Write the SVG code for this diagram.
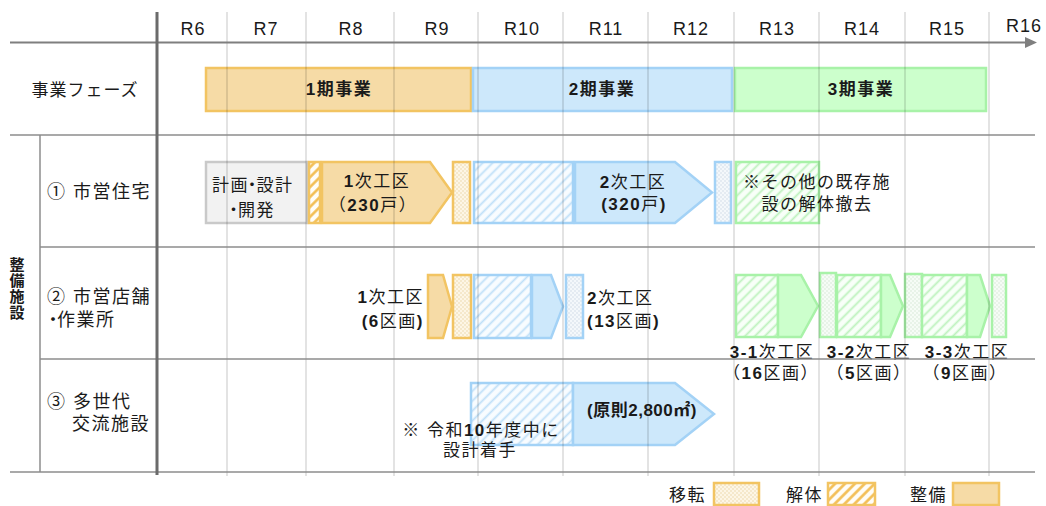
<svg xmlns="http://www.w3.org/2000/svg" width="1046" height="506" viewBox="0 0 1046 506">
<defs>
<style>
text{font-family:"Liberation Sans","Noto Sans CJK JP",sans-serif;fill:#1a1a1a}
.hdr{font-size:18px;letter-spacing:1px;text-anchor:middle}
.lbl{font-size:17px;letter-spacing:1.5px}
.left{font-size:18px;letter-spacing:1.5px}
.mid{text-anchor:middle}
.end{text-anchor:end}
.b{font-weight:bold}
.tight{letter-spacing:-4px}
.grid{stroke:#000;stroke-opacity:0.15;stroke-width:1.5}
.sep{stroke:#8c8c8c;stroke-width:1.5;fill:none}
.o{fill:#f6dba6;stroke:#f2c462;stroke-width:2.5}
.bl{fill:#cde8fb;stroke:#a3d2f6;stroke-width:2.5}
.g{fill:#ccffcc;stroke:#a8f2a8;stroke-width:2.5}
.gray{fill:#f2f2f2;stroke:#c9c9c9;stroke-width:2.5}
.ho{fill:url(#hO);stroke:#f2c462;stroke-width:2.5}
.hb{fill:url(#hB);stroke:#a3d2f6;stroke-width:2.5}
.hg{fill:url(#hG);stroke:#a8f2a8;stroke-width:2.5}
.do{fill:url(#dO);stroke:#f2c462;stroke-width:2.5}
.db{fill:url(#dB);stroke:#a3d2f6;stroke-width:2.5}
.dg{fill:url(#dG);stroke:#a8f2a8;stroke-width:2.5}
</style>
<pattern id="hO" width="7" height="7" patternUnits="userSpaceOnUse" patternTransform="rotate(45)"><rect width="7" height="7" fill="#fffdf8"/><line x1="1.5" y1="0" x2="1.5" y2="7" stroke="#f2bb4c" stroke-width="2.5"/></pattern>
<pattern id="hB" width="7" height="7" patternUnits="userSpaceOnUse" patternTransform="rotate(45)"><rect width="7" height="7" fill="#f8fcff"/><line x1="1.5" y1="0" x2="1.5" y2="7" stroke="#bfe0f8" stroke-width="1.8"/></pattern>
<pattern id="hG" width="7" height="7" patternUnits="userSpaceOnUse" patternTransform="rotate(45)"><rect width="7" height="7" fill="#f8fff8"/><line x1="1.5" y1="0" x2="1.5" y2="7" stroke="#bdf2bd" stroke-width="1.8"/></pattern>
<pattern id="dO" width="4" height="4" patternUnits="userSpaceOnUse"><rect width="4" height="4" fill="#fdf6e6"/><circle cx="1" cy="1" r="0.7" fill="#e8d09c"/><circle cx="3" cy="3" r="0.7" fill="#e8d09c"/></pattern>
<pattern id="dB" width="4" height="4" patternUnits="userSpaceOnUse"><rect width="4" height="4" fill="#f4f8fb"/><circle cx="1" cy="1" r="0.7" fill="#c9d6e2"/><circle cx="3" cy="3" r="0.7" fill="#c9d6e2"/></pattern>
<pattern id="dG" width="4" height="4" patternUnits="userSpaceOnUse"><rect width="4" height="4" fill="#f6fcf6"/><circle cx="1" cy="1" r="0.7" fill="#cfe3cf"/><circle cx="3" cy="3" r="0.7" fill="#cfe3cf"/></pattern>
<marker id="arr" markerWidth="12" markerHeight="11" refX="0" refY="5.5" orient="auto" markerUnits="userSpaceOnUse"><path d="M0,0 L12,5.5 L0,11 z" fill="#7f7f7f"/></marker>
</defs>
<rect width="1046" height="506" fill="#fff"/>

<g id="axis-labels">
<text class="hdr" x="193" y="35">R6</text>
<text class="hdr" x="266" y="35">R7</text>
<text class="hdr" x="351" y="35">R8</text>
<text class="hdr" x="437" y="35">R9</text>
<text class="hdr" x="522" y="35">R10</text>
<text class="hdr" x="606" y="35">R11</text>
<text class="hdr" x="691" y="35">R12</text>
<text class="hdr" x="777" y="35">R13</text>
<text class="hdr" x="862" y="35">R14</text>
<text class="hdr" x="947" y="35">R15</text>
<text class="hdr" x="1024" y="32">R16</text>
</g>

<g id="row-labels">
<text class="left" x="85" y="96" text-anchor="middle" style="letter-spacing:1px;font-size:17px">事業フェーズ</text>
<text class="b" style="font-size:15px" text-anchor="middle"><tspan x="17" y="270">整</tspan><tspan x="17" y="286">備</tspan><tspan x="17" y="302">施</tspan><tspan x="17" y="318">設</tspan></text>
<text class="left" x="47" y="198">① 市営住宅</text>
<text class="left" x="47" y="303">② 市営店舗</text>
<text class="left" x="44" y="326"><tspan class="tight" style="letter-spacing:-5px">・</tspan>作業所</text>
<text class="left" x="47" y="408">③ 多世代</text>
<text class="left" x="72" y="430">交流施設</text>
</g>

<g id="phase-1"><rect class="o" x="206" y="68" width="265" height="43"/><text class="lbl b mid" x="339" y="95">1期事業</text></g>
<g id="phase-2"><rect class="bl" x="473" y="68" width="259" height="43"/><text class="lbl b mid" x="602" y="95">2期事業</text></g>
<g id="phase-3"><rect class="g" x="735" y="68" width="251" height="43"/><text class="lbl b mid" x="861" y="95">3期事業</text></g>

<g id="housing">
<rect class="gray" x="206" y="162" width="101" height="61"/>
<text class="lbl" x="212" y="191">計<tspan class="tight">画・</tspan>設計</text>
<text class="lbl" x="225" y="216"><tspan class="tight">・</tspan>開発</text>
<rect class="ho" x="309" y="162" width="11" height="61"/>
<polygon class="o" points="322,162 430,162 452,192.5 430,223 322,223"/>
<text class="lbl mid" x="377" y="187"><tspan class="b">1</tspan>次工区</text>
<text class="lbl mid" x="373" y="211">（<tspan class="b">230</tspan>戸）</text>
<rect class="do" x="453" y="162" width="17" height="61"/>
<rect class="hb" x="474" y="162" width="99" height="61"/>
<polygon class="bl" points="575,162 675,162 712,192.5 675,223 575,223"/>
<text class="lbl mid" x="633" y="188"><tspan class="b">2</tspan>次工区</text>
<text class="lbl mid" x="634" y="210"><tspan class="b">(320</tspan>戸<tspan class="b">)</tspan></text>
<rect class="db" x="715" y="162" width="16" height="61"/>
<rect class="hg" x="736" y="162" width="83" height="61"/>
<text class="lbl mid" x="817" y="188">※その他の既存施</text>
<text class="lbl mid" x="817" y="210">設の解体撤去</text>
</g>

<g id="shops">
<text class="lbl end" x="424" y="303"><tspan class="b">1</tspan>次工区</text>
<text class="lbl end" x="424" y="327"><tspan class="b">(6</tspan>区画<tspan class="b">)</tspan></text>
<polygon class="o" points="428,275 443,275 452,306.5 443,338 428,338"/>
<rect class="do" x="453" y="275" width="18" height="63"/>
<rect class="hb" x="474" y="275" width="57" height="63"/>
<polygon class="bl" points="532,275 551,275 563,306.5 551,338 532,338"/>
<rect class="db" x="566" y="275" width="17" height="63"/>
<text class="lbl" x="587" y="304"><tspan class="b">2</tspan>次工区</text>
<text class="lbl" x="587" y="327"><tspan class="b">(13</tspan>区画<tspan class="b">)</tspan></text>
<rect class="hg" x="736" y="275" width="42" height="62"/>
<polygon class="g" points="778,275 801,275 818,306 801,337 778,337"/>
<rect class="dg" x="820" y="273" width="16" height="64"/>
<rect class="hg" x="837" y="275" width="44" height="62"/>
<polygon class="g" points="881,275 890,275 903,306 890,337 881,337"/>
<rect class="dg" x="905" y="274" width="17" height="63"/>
<rect class="hg" x="922" y="275" width="45" height="62"/>
<polygon class="g" points="967,275 980,275 990,306 980,337 967,337"/>
<rect class="dg" x="992" y="275" width="14" height="62"/>
<text class="lbl mid" x="772" y="358"><tspan class="b">3-1</tspan>次工区</text>
<text class="lbl mid" x="771" y="379">（<tspan class="b">16</tspan>区画）</text>
<text class="lbl mid" x="869" y="358"><tspan class="b">3-2</tspan>次工区</text>
<text class="lbl mid" x="869" y="379">（<tspan class="b">5</tspan>区画）</text>
<text class="lbl mid" x="967" y="358"><tspan class="b">3-3</tspan>次工区</text>
<text class="lbl mid" x="965" y="379">（<tspan class="b">9</tspan>区画）</text>
</g>

<g id="community">
<rect class="hb" x="471" y="383" width="102" height="62"/>
<polygon class="bl" points="573,383 675,383 714,414 675,445 573,445"/>
<text class="lbl b mid" x="642" y="416" style="letter-spacing:0.5px">(原則2,800㎡)</text>
<text class="lbl mid" x="481" y="436">※ 令和<tspan class="b">10</tspan>年度中に</text>
<text class="lbl mid" x="480" y="456">設計着手</text>
</g>

<g id="connectors">
<line class="grid" x1="227" y1="12" x2="227" y2="476"/>
<line class="grid" x1="306" y1="12" x2="306" y2="476"/>
<line class="grid" x1="394" y1="12" x2="394" y2="476"/>
<line class="grid" x1="478" y1="12" x2="478" y2="476"/>
<line class="grid" x1="563" y1="12" x2="563" y2="476"/>
<line class="grid" x1="648" y1="12" x2="648" y2="476"/>
<line class="grid" x1="734" y1="12" x2="734" y2="476"/>
<line class="grid" x1="819" y1="12" x2="819" y2="476"/>
<line class="grid" x1="905" y1="12" x2="905" y2="476"/>
<line class="grid" x1="989" y1="12" x2="989" y2="476"/>
<line class="sep" x1="10" y1="135" x2="1035" y2="135"/>
<line class="sep" x1="40" y1="247" x2="1035" y2="247"/>
<line class="sep" x1="40" y1="359" x2="1035" y2="359"/>
<line class="sep" x1="10" y1="472" x2="1035" y2="472"/>
<line class="sep" x1="40" y1="135" x2="40" y2="472"/>
<line x1="10" y1="42.5" x2="1025" y2="42.5" stroke="#7f7f7f" stroke-width="2" marker-end="url(#arr)"/>
<line x1="157" y1="12" x2="157" y2="475" stroke="#6b6b6b" stroke-width="3"/>
</g>

<g id="legend">
<text class="lbl" x="669" y="501">移転</text>
<rect class="do" x="714" y="483" width="45" height="22"/>
<text class="lbl" x="786" y="501">解体</text>
<rect class="ho" x="828" y="483" width="47" height="22"/>
<text class="lbl" x="910" y="501">整備</text>
<rect class="o" x="953" y="483" width="46" height="22"/>
</g>
</svg>
